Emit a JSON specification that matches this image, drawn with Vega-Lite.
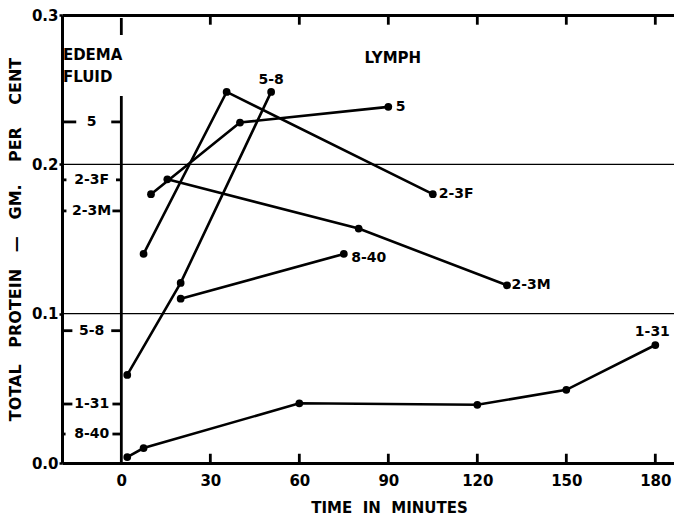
{
  "$schema": "https://vega.github.io/schema/vega-lite/v6.json",
  "width": 612,
  "height": 448,
  "autosize": {"type": "none"},
  "padding": {"left": 62, "top": 15, "right": 0, "bottom": 58},
  "background": "white",
  "config": {
    "view": {"stroke": null, "fill": null},
    "font": "DejaVu Sans",
    "axis": {
      "domainColor": "black",
      "domainWidth": 3,
      "tickColor": "black",
      "tickWidth": 2.5,
      "labelColor": "black",
      "labelFont": "DejaVu Sans",
      "labelFontWeight": "bold",
      "labelFontSize": 14,
      "titleColor": "black",
      "titleFont": "DejaVu Sans",
      "titleFontWeight": "bold",
      "titleFontSize": 14
    }
  },
  "datasets": {
    "series": [
      {"series": "5", "t": 10, "p": 0.180},
      {"series": "5", "t": 40, "p": 0.228},
      {"series": "5", "t": 90, "p": 0.2385},
      {"series": "2-3F", "t": 7.5, "p": 0.140},
      {"series": "2-3F", "t": 35.5, "p": 0.2485},
      {"series": "2-3F", "t": 105, "p": 0.180},
      {"series": "2-3M", "t": 15.5, "p": 0.190},
      {"series": "2-3M", "t": 80, "p": 0.157},
      {"series": "2-3M", "t": 130, "p": 0.119},
      {"series": "5-8", "t": 2, "p": 0.059},
      {"series": "5-8", "t": 20, "p": 0.1206},
      {"series": "5-8", "t": 50.5, "p": 0.2485},
      {"series": "8-40", "t": 20, "p": 0.110},
      {"series": "8-40", "t": 75, "p": 0.140},
      {"series": "1-31", "t": 2, "p": 0.004},
      {"series": "1-31", "t": 7.5, "p": 0.010},
      {"series": "1-31", "t": 60, "p": 0.040},
      {"series": "1-31", "t": 120, "p": 0.039},
      {"series": "1-31", "t": 150, "p": 0.049},
      {"series": "1-31", "t": 180, "p": 0.079}
    ],
    "edema": [
      {"lab": "5", "p": 0.2284},
      {"lab": "2-3F", "p": 0.1896},
      {"lab": "2-3M", "p": 0.1688},
      {"lab": "5-8", "p": 0.0886},
      {"lab": "1-31", "p": 0.0395},
      {"lab": "8-40", "p": 0.0194}
    ],
    "hRules": [
      {"p": 0.1, "t": -20, "t2": 186.3, "kind": "grid"},
      {"p": 0.2, "t": -20, "t2": 186.3, "kind": "grid"},
      {"p": 0.2284, "t": -20, "t2": -15.2, "kind": "dash"},
      {"p": 0.2284, "t": -3.4, "t2": 0, "kind": "dash"},
      {"p": 0.1896, "t": -20, "t2": -18.5, "kind": "dash"},
      {"p": 0.1896, "t": -1.8, "t2": 0, "kind": "dash"},
      {"p": 0.1688, "t": -20, "t2": -18.5, "kind": "dash"},
      {"p": 0.1688, "t": -3, "t2": 0, "kind": "dash"},
      {"p": 0.0886, "t": -20, "t2": -16.5, "kind": "dash"},
      {"p": 0.0886, "t": -3.4, "t2": 0, "kind": "dash"},
      {"p": 0.0395, "t": -20, "t2": -16.5, "kind": "dash"},
      {"p": 0.0395, "t": -3, "t2": 0, "kind": "dash"},
      {"p": 0.0194, "t": -20, "t2": -18.8, "kind": "dash"},
      {"p": 0.0194, "t": -3, "t2": 0, "kind": "dash"}
    ],
    "vRules": [
      {"t": 0, "p": 0, "p2": 0.2458},
      {"t": 0, "p": 0.298, "p2": 0.2866},
      {"t": 30, "p": 0.3, "p2": 0.2935},
      {"t": 60, "p": 0.3, "p2": 0.2935},
      {"t": 90, "p": 0.3, "p2": 0.2935},
      {"t": 120, "p": 0.3, "p2": 0.2935},
      {"t": 150, "p": 0.3, "p2": 0.2935},
      {"t": 180, "p": 0.3, "p2": 0.2935},
      {"t": 30, "p": 0, "p2": 0.0062},
      {"t": 60, "p": 0, "p2": 0.0062},
      {"t": 90, "p": 0, "p2": 0.0062},
      {"t": 120, "p": 0, "p2": 0.0062},
      {"t": 150, "p": 0, "p2": 0.0062},
      {"t": 180, "p": 0, "p2": 0.0062}
    ],
    "labelsLeft": [
      {"lab": "5", "t": 92.5, "p": 0.2385},
      {"lab": "2-3F", "t": 107, "p": 0.180},
      {"lab": "8-40", "t": 77.5, "p": 0.137},
      {"lab": "2-3M", "t": 131.5, "p": 0.119}
    ],
    "labelsCenter": [
      {"lab": "5-8", "t": 50.5, "p": 0.2565},
      {"lab": "1-31", "t": 179, "p": 0.088}
    ],
    "headers": [
      {"lab": "EDEMA", "t": -19.7, "p": 0.2735},
      {"lab": "FLUID", "t": -19.7, "p": 0.2588},
      {"lab": "LYMPH", "t": 82, "p": 0.271}
    ]
  },
  "layer": [
    {
      "data": {"name": "series"},
      "mark": {"type": "line", "color": "black", "strokeWidth": 2.6},
      "encoding": {
        "x": {
          "field": "t", "type": "quantitative",
          "scale": {"domain": [-20, 186.3], "nice": false, "zero": false},
          "axis": {
            "orient": "bottom",
            "values": [0, 30, 60, 90, 120, 150, 180],
            "ticks": false,
            "labelPadding": 10,
            "labelFontSize": 15,
            "grid": false,
            "title": "TIME\u00a0\u00a0IN\u00a0\u00a0MINUTES",
            "titleFontSize": 15,
            "titlePadding": 12,
            "titleX": 327
          }
        },
        "y": {
          "field": "p", "type": "quantitative",
          "scale": {"domain": [0, 0.3], "nice": false},
          "axis": {
            "orient": "left",
            "values": [0, 0.1, 0.2, 0.3],
            "format": ".1f",
            "tickSize": 3,
            "labelPadding": 1,
            "labelFontSize": 15,
            "grid": false,
            "title": "TOTAL\u00a0\u00a0\u00a0PROTEIN\u00a0\u00a0\u00a0—\u00a0\u00a0\u00a0GM.\u00a0\u00a0\u00a0\u00a0PER\u00a0\u00a0\u00a0\u00a0CENT",
            "titleFontSize": 16,
            "titlePadding": 8
          }
        },
        "detail": {"field": "series"}
      }
    },
    {
      "data": {"name": "series"},
      "mark": {"type": "point", "filled": true, "color": "black", "opacity": 1, "size": 60},
      "encoding": {
        "x": {
          "field": "t", "type": "quantitative",
          "axis": {
            "orient": "top",
            "ticks": false,
            "labels": false,
            "grid": false,
            "title": null
          }
        },
        "y": {"field": "p", "type": "quantitative", "axis": null}
      }
    },
    {
      "data": {"name": "edema"},
      "mark": {"type": "text", "color": "black", "fontWeight": "bold", "fontSize": 14, "align": "center", "baseline": "middle"},
      "encoding": {
        "x": {"datum": -10, "type": "quantitative", "axis": null},
        "y": {"field": "p", "type": "quantitative", "axis": null},
        "text": {"field": "lab"}
      }
    },
    {
      "data": {"name": "labelsLeft"},
      "mark": {"type": "text", "color": "black", "fontWeight": "bold", "fontSize": 14, "align": "left", "baseline": "middle"},
      "encoding": {
        "x": {"field": "t", "type": "quantitative", "axis": null},
        "y": {"field": "p", "type": "quantitative", "axis": null},
        "text": {"field": "lab"}
      }
    },
    {
      "data": {"name": "labelsCenter"},
      "mark": {"type": "text", "color": "black", "fontWeight": "bold", "fontSize": 14, "align": "center", "baseline": "middle"},
      "encoding": {
        "x": {"field": "t", "type": "quantitative", "axis": null},
        "y": {"field": "p", "type": "quantitative", "axis": null},
        "text": {"field": "lab"}
      }
    },
    {
      "data": {"name": "headers"},
      "mark": {"type": "text", "color": "black", "fontWeight": "bold", "fontSize": 15, "align": "left", "baseline": "middle"},
      "encoding": {
        "x": {"field": "t", "type": "quantitative", "axis": null},
        "y": {"field": "p", "type": "quantitative", "axis": null},
        "text": {"field": "lab"}
      }
    },
    {
      "data": {"name": "vRules"},
      "mark": {"type": "rule", "color": "black", "strokeWidth": 2.8},
      "encoding": {
        "x": {"field": "t", "type": "quantitative", "axis": null},
        "y": {"field": "p", "type": "quantitative", "axis": null},
        "y2": {"field": "p2"}
      }
    },
    {
      "data": {"name": "hRules"},
      "mark": {"type": "rule", "color": "black"},
      "encoding": {
        "x": {"field": "t", "type": "quantitative", "axis": null},
        "x2": {"field": "t2"},
        "y": {"field": "p", "type": "quantitative", "axis": null},
        "strokeWidth": {
          "field": "kind", "type": "nominal", "legend": null,
          "scale": {"domain": ["grid", "dash"], "range": [1.4, 2.8]}
        }
      }
    }
  ],
  "resolve": {"axis": {"x": "independent", "y": "independent"}}
}
